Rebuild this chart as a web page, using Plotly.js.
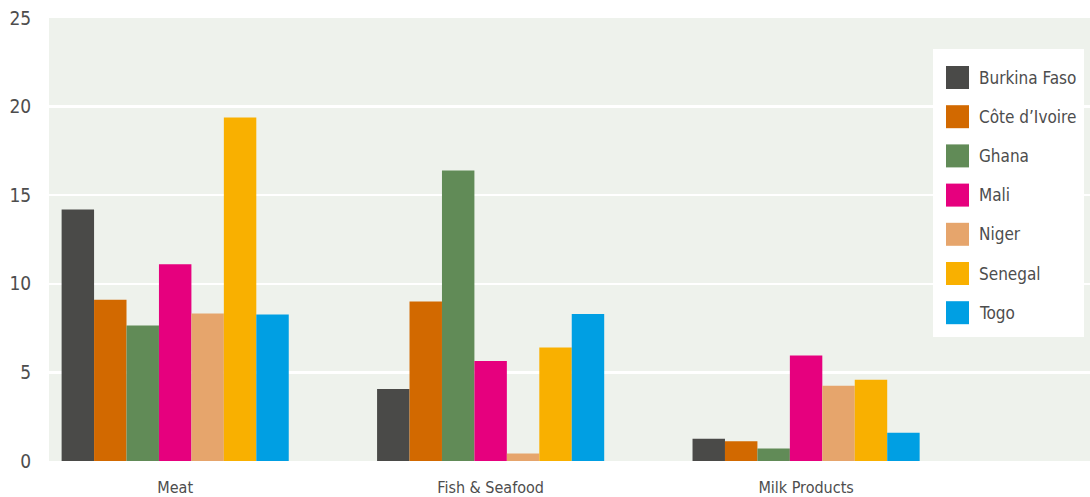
<!DOCTYPE html>
<html>
<head>
<meta charset="utf-8">
<script src="https://cdn.plot.ly/plotly-3.0.1.min.js"></script>
<style>html,body{margin:0;padding:0;background:#fff;}#chart{width:1090px;height:497px;}</style>
</head>
<body>
<div id="chart"></div>
<script>
const categories = ["Meat", "Fish & Seafood", "Milk Products"];
const countries = ["Burkina Faso", "Côte d’Ivoire", "Ghana", "Mali", "Niger", "Senegal", "Togo"];
const colors = ["#4a4a48", "#d26900", "#618b57", "#e6007e", "#e6a56c", "#f9b000", "#009fe3"];
const burkinaFaso = [14.2, 4.07, 1.25];
const coteDIvoire = [9.1, 9.0, 1.12];
const ghana = [7.65, 16.4, 0.71];
const mali = [11.1, 5.65, 5.95];
const niger = [8.32, 0.42, 4.24];
const senegal = [19.38, 6.4, 4.58];
const togo = [8.27, 8.29, 1.59];
const seriesValues = [burkinaFaso, coteDIvoire, ghana, mali, niger, senegal, togo];
const yTicks = [0, 5, 10, 15, 20, 25];

const FONT = "'DejaVu Sans Condensed', 'Liberation Sans Narrow', 'Open Sans', sans-serif";
const W = 1090, H = 497, ML = 49, MR = 0, MT = 18, MB = 36;
const PW = W - ML - MR, PH = H - MT - MB;
const px = x => (x - ML) / PW;
const py = y => (H - MB - y) / PH;

const traces = countries.map((name, i) => ({
  type: 'bar',
  name: name,
  x: categories,
  y: seriesValues[i],
  marker: {color: colors[i], line: {width: 0}},
  showlegend: false,
  hoverinfo: 'x+y+name'
}));

// legend drawn with shapes/annotations
const shapes = [{
  type: 'rect', xref: 'paper', yref: 'paper',
  x0: px(933), x1: px(1084), y0: py(337), y1: py(49),
  fillcolor: '#ffffff', line: {width: 0}, layer: 'above'
}];
const annotations = [];
countries.forEach((name, i) => {
  const cy = 77.5 + i * 39.2;
  shapes.push({
    type: 'rect', xref: 'paper', yref: 'paper',
    x0: px(946), x1: px(969), y0: py(cy + 11.5), y1: py(cy - 11.5),
    fillcolor: colors[i], line: {width: 0}, layer: 'above'
  });
  annotations.push({
    xref: 'paper', yref: 'paper', x: px(977), y: py(cy),
    xanchor: 'left', yanchor: 'middle', showarrow: false,
    text: name, font: {family: FONT, size: 17, color: '#4d4d4d'}
  });
});

const layout = {
  width: W, height: H,
  margin: {l: ML, r: MR, t: MT, b: MB, pad: 0},
  paper_bgcolor: '#ffffff',
  plot_bgcolor: '#eef2ec',
  barmode: 'group',
  bargap: 0.28,
  bargroupgap: 0,
  font: {family: FONT, size: 17, color: '#555555'},
  xaxis: {
    type: 'category',
    range: [-0.4, 2.9],
    showgrid: false, zeroline: false, showline: false,
    ticks: 'outside', ticklen: 12, tickcolor: 'rgba(0,0,0,0)',
    tickfont: {family: FONT, size: 16, color: '#4d4d4d'},
    fixedrange: true
  },
  yaxis: {
    range: [0, 25],
    tickvals: yTicks,
    ticktext: yTicks.map(String),
    showgrid: true, gridcolor: '#ffffff', gridwidth: 2.5,
    zeroline: false, showline: false,
    ticks: 'outside', ticklen: 13, tickcolor: 'rgba(0,0,0,0)',
    tickfont: {family: FONT, size: 19, color: '#4d4d4d'},
    fixedrange: true
  },
  shapes: shapes,
  annotations: annotations,
  showlegend: false
};

Plotly.newPlot('chart', traces, layout, {displayModeBar: false, staticPlot: true});
</script>
</body>
</html>
